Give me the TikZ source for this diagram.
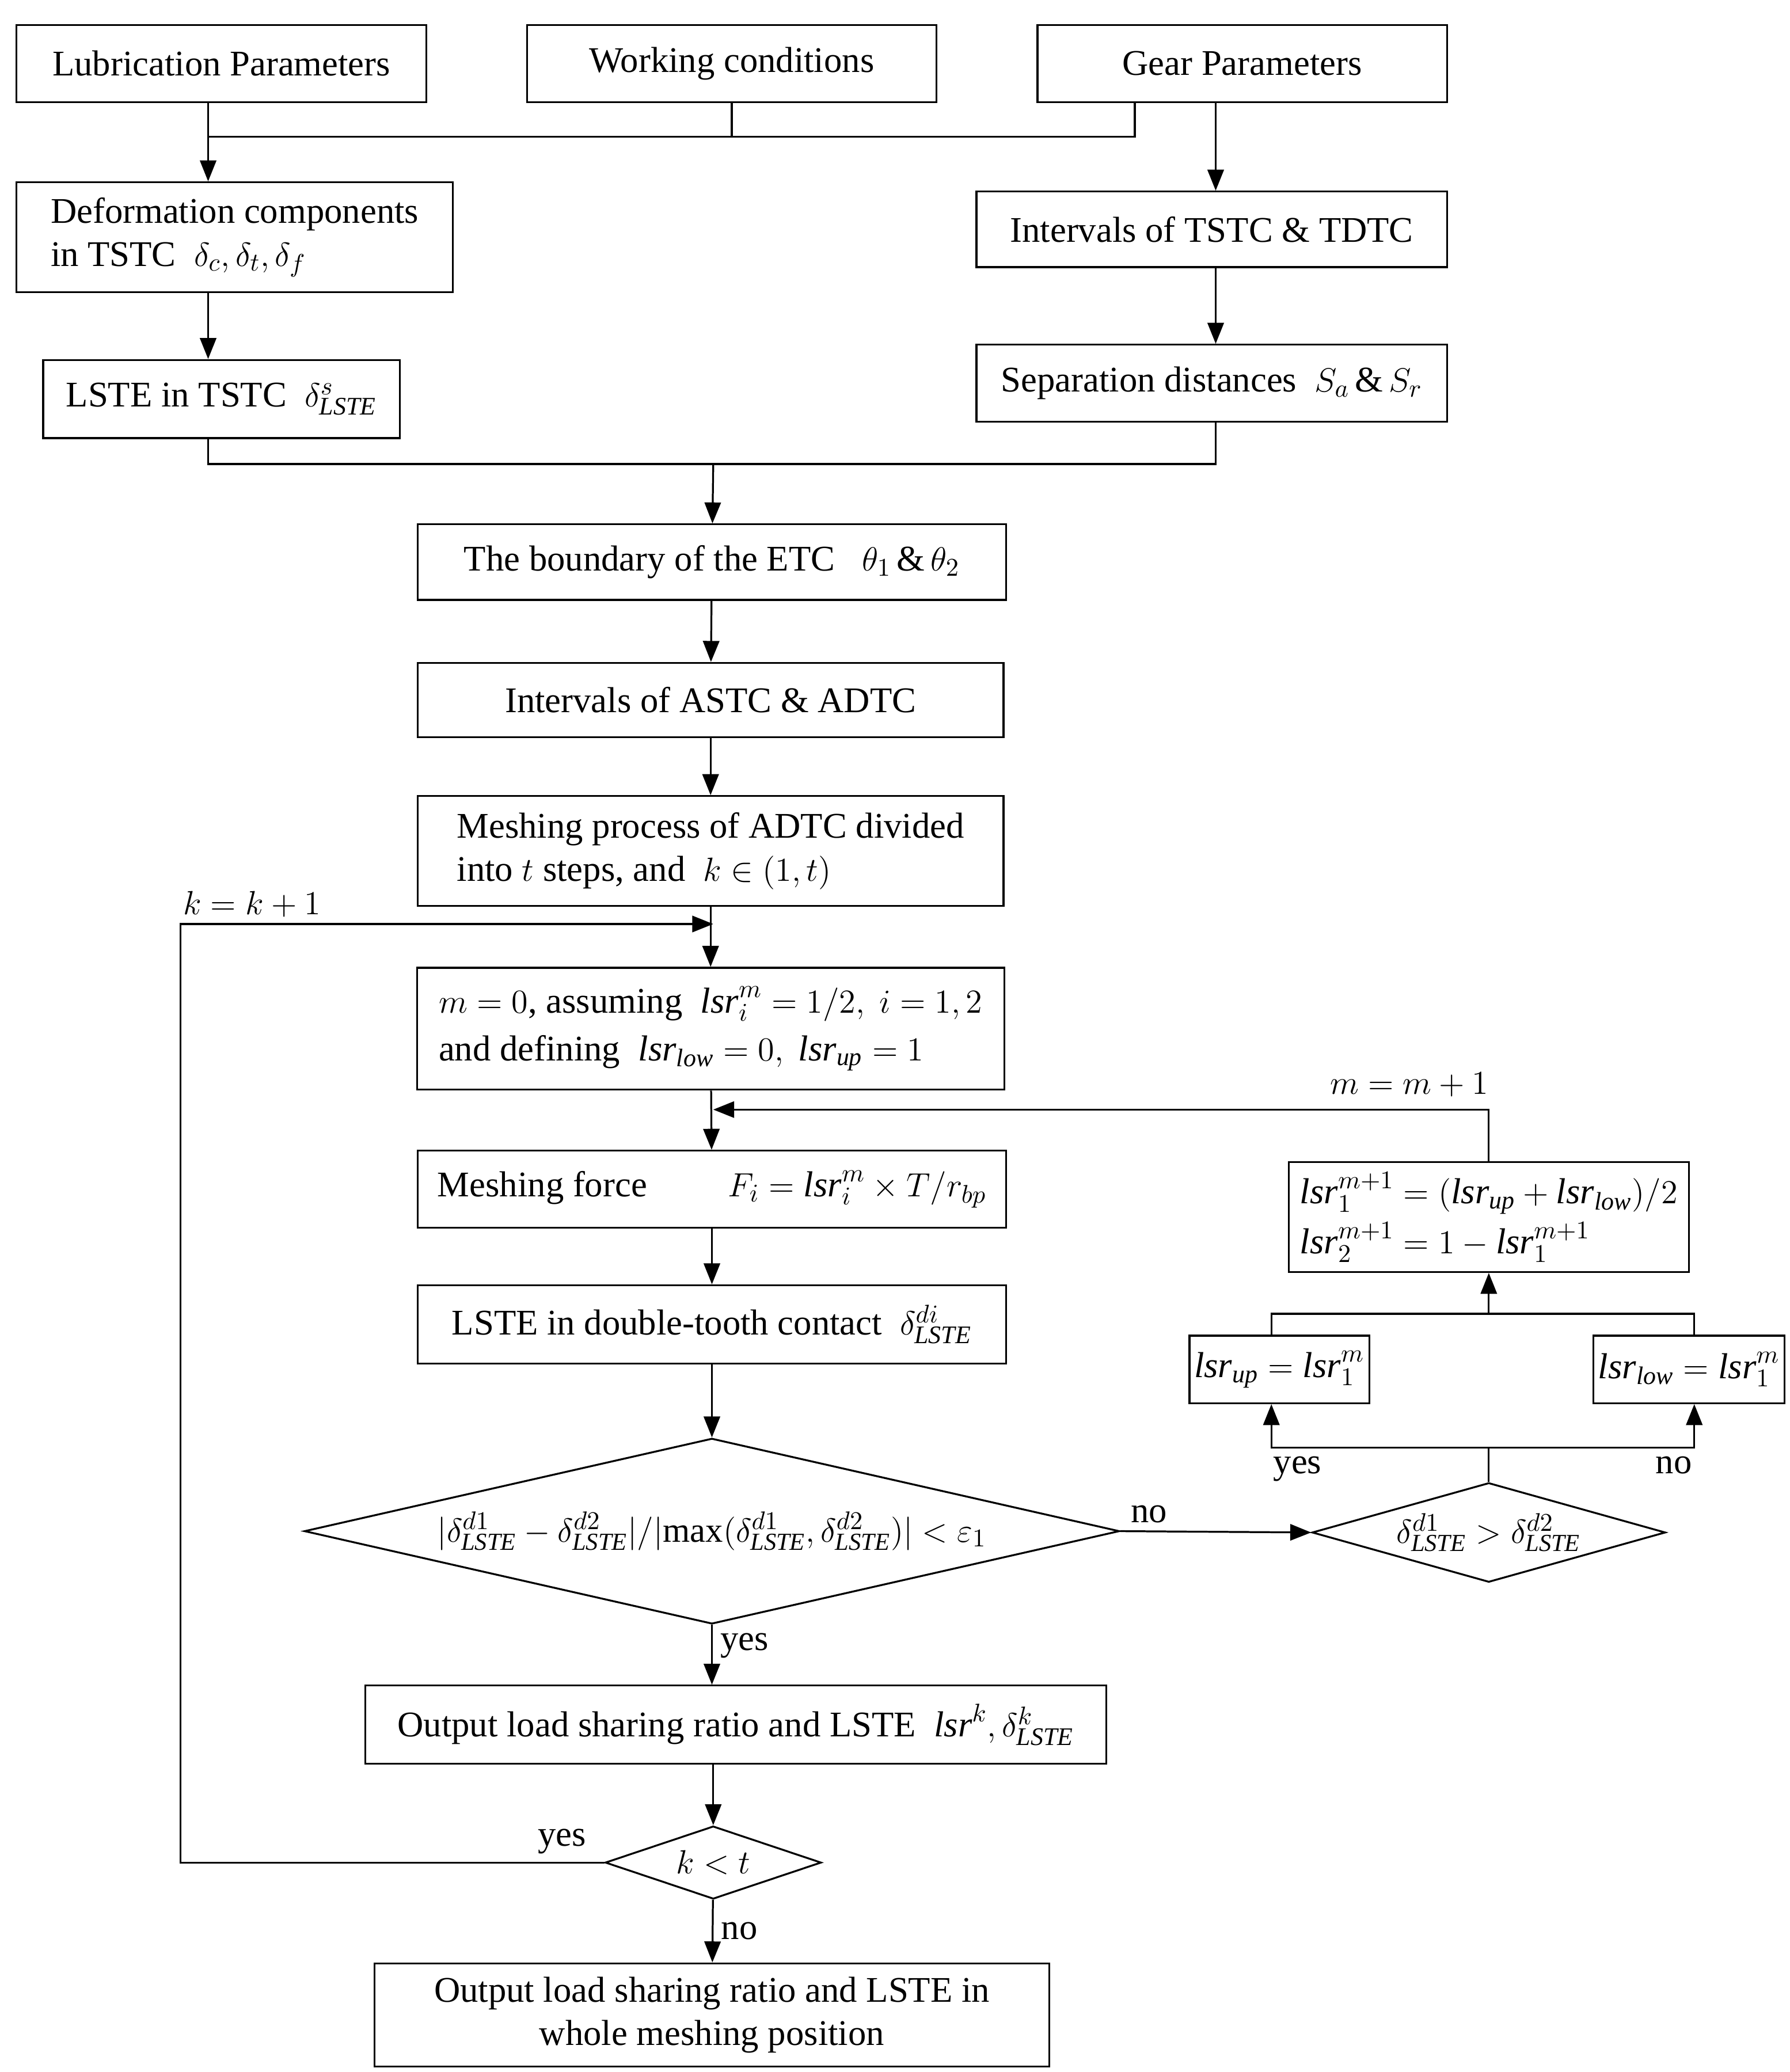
\documentclass[tikz,border=0pt]{standalone}
\usepackage{fontspec}
\setmainfont{Liberation Serif}
\usetikzlibrary{shapes.geometric,arrows.meta}
\tikzset{box/.style={draw,thick,inner sep=2pt,align=left,font=\fontsize{15.5}{18.5}\selectfont},
  dia/.style={draw,thick,diamond,aspect=4.4,inner sep=0pt,font=\fontsize{15}{18}\selectfont},
  line/.style={thick},
  arr/.style={thick,-{Triangle[length=9pt,width=7pt]}},
  lbl/.style={font=\fontsize{15.5}{18.5}\selectfont},
}
\begin{document}
\begin{tikzpicture}[x=0.02cm,y=-0.02cm]
\useasboundingbox (0,0) rectangle (1350,1563);
% input boxes
\node[box,minimum width=6.18cm,minimum height=1.16cm,align=center] (lub) at (167,48) {Lubrication Parameters};
\node[box,minimum width=6.18cm,minimum height=1.16cm,align=center] (work) at (552,48) {Working conditions};
\node[box,minimum width=6.18cm,minimum height=1.16cm,align=center] (gear) at (937,48) {Gear Parameters};
\node[box,minimum width=6.58cm,minimum height=1.66cm] (deform) at (177,179) {Deformation components\\in TSTC \ $\delta_c,\delta_t,\delta_f$};
\node[box,minimum width=7.1cm,minimum height=1.14cm,align=center] (tstc) at (914,173) {Intervals of TSTC \& TDTC};
\node[box,minimum width=5.38cm,minimum height=1.18cm,align=center] (lstes) at (167,301) {LSTE in TSTC \ $\delta^{s}_{\mathit{LSTE}}$};
\node[box,minimum width=7.1cm,minimum height=1.16cm,align=center] (sep) at (914,289) {Separation distances \ $S_a\,\&\,S_r$};
% main column
\node[box,minimum width=8.88cm,minimum height=1.14cm,align=center] (bound) at (537,424) {The boundary of the ETC \ \ $\theta_1\,\&\,\theta_2$};
\node[box,minimum width=8.84cm,minimum height=1.12cm,align=center] (astc) at (536,528) {Intervals of ASTC \& ADTC};
\node[box,minimum width=8.84cm,minimum height=1.66cm] (mesh) at (536,642) {Meshing process of ADTC divided\\into $t$ steps, and \ $k\in(1,t)$};
\node[box,minimum width=8.86cm,minimum height=1.84cm] (init) at (536,776) {$m=0$, assuming \ $\mathit{lsr}_i^m=1/2,\ i=1,2$\\[2pt]and defining \ $\mathit{lsr}_{\mathit{low}}=0,\ \mathit{lsr}_{\mathit{up}}=1$};
\node[box,minimum width=8.88cm,minimum height=1.16cm,align=center] (force) at (537,897) {Meshing force \qquad $F_i=\mathit{lsr}_i^m\times T/r_{bp}$};
\node[box,minimum width=8.88cm,minimum height=1.18cm,align=center] (lsted) at (537,999) {LSTE in double-tooth contact \ $\delta^{di}_{\mathit{LSTE}}$};
\node[dia,minimum width=12.3cm,minimum height=2.8cm] (conv) at (537,1155) {$\bigl|\delta^{d1}_{\mathit{LSTE}}-\delta^{d2}_{\mathit{LSTE}}\bigr|\big/\bigl|\max\bigl(\delta^{d1}_{\mathit{LSTE}},\delta^{d2}_{\mathit{LSTE}}\bigr)\bigr|<\varepsilon_1$};
\node[box,minimum width=11.18cm,minimum height=1.18cm,align=center] (out) at (555,1301) {Output load sharing ratio and LSTE \ $\mathit{lsr}^k,\delta^k_{\mathit{LSTE}}$};
\node[dia,minimum width=3.26cm,minimum height=1.1cm,aspect=3] (kt) at (538,1405) {$k<t$};
\node[box,minimum width=10.18cm,minimum height=1.56cm,align=center] (final) at (537,1520) {Output load sharing ratio and LSTE in\\whole meshing position};
% update branch
\node[dia,minimum width=5.1cm,minimum height=1.5cm] (cmp) at (1123,1156) {$\delta^{d1}_{\mathit{LSTE}}>\delta^{d2}_{\mathit{LSTE}}$};
\node[box,minimum width=2.66cm,minimum height=1.02cm,align=center] (up) at (965,1033) {$\mathit{lsr}_{\mathit{up}}=\mathit{lsr}_1^m$};
\node[box,minimum width=2.64cm,minimum height=1.02cm,align=center] (low) at (1274,1033) {$\mathit{lsr}_{\mathit{low}}=\mathit{lsr}_1^m$};
\node[box,minimum width=6.04cm,minimum height=1.66cm] (upd) at (1123,918) {$\mathit{lsr}_1^{m+1}=\bigl(\mathit{lsr}_{\mathit{up}}+\mathit{lsr}_{\mathit{low}}\bigr)/2$\\[3pt]$\mathit{lsr}_2^{m+1}=1-\mathit{lsr}_1^{m+1}$};
\coordinate (j1) at (157,103);
\coordinate (j2) at (538,350);
\coordinate (j3) at (538,697);
\coordinate (j4) at (538,837);
% connectors
\draw[line] (lub.south -| j1) -- (j1) -- (856,103) -- (856,77);
\draw[line] (work) -- (work.south |- j1);
\draw[arr] (j1) -- (deform.north -| j1);
\draw[arr] (917,77) -- (tstc.north -| 917,0);
\draw[arr] (tstc.south -| 917,0) -- (sep.north -| 917,0);
\draw[arr] (deform.south -| j1) -- (lstes.north -| j1);
\draw[line] (lstes.south -| j1) -- (157,350) -- (917,350) -- (sep.south -| 917,0);
\draw[arr] (j2) -- (bound);
\draw[arr] (bound) -- (astc);
\draw[arr] (astc) -- (mesh);
\draw[arr] (mesh) -- (init);
\draw[arr] (init) -- (force);
\draw[arr] (force) -- (lsted);
\draw[arr] (lsted) -- (conv);
\draw[arr] (conv.south) -- node[lbl,right,pos=0.35] {yes} (out.north -| conv.south);
\draw[arr] (out.south -| kt) -- (kt);
\draw[arr] (kt) -- node[lbl,right] {no} (final);
\draw[arr] (kt.west) -- node[lbl,above,pos=0.1] {yes} (136,1405) -- (136,697) -- (j3);
\node[lbl] (kinc) at (190,682) {$k=k+1$};
\draw[arr] (conv.east) -- node[lbl,above,pos=0.15] {no} (cmp.west);
\draw[line] (cmp.north) -- (1123,1092);
\draw[arr] (1123,1092) -- node[lbl,below,pos=0.88] {yes} (959,1092) -- (up.south -| 959,0);
\draw[arr] (1123,1092) -- node[lbl,below,pos=0.9] {no} (1278,1092) -- (low.south -| 1278,0);
\draw[line] (up.north -| 959,0) -- (959,991) -- (1278,991) -- (low.north -| 1278,0);
\draw[arr] (1123,991) -- (upd.south);
\draw[arr] (upd.north) -- (1123,837) -- (j4);
\node[lbl] (minc) at (1063,818) {$m=m+1$};
\end{tikzpicture}
\end{document}
